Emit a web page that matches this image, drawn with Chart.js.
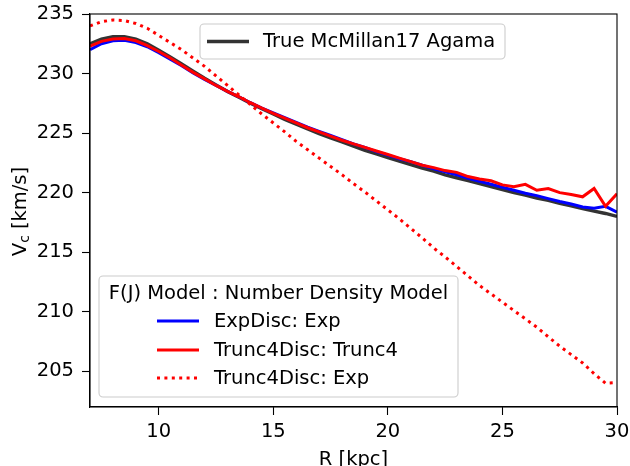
<!DOCTYPE html>
<html>
<head>
<meta charset="utf-8">
<script src="https://cdn.jsdelivr.net/npm/chart.js@4.4.1/dist/chart.umd.min.js"></script>
<style>
  html, body { margin: 0; padding: 0; background: #fff; }
  canvas { display: block; }
</style>
</head>
<body>
<canvas id="vcChart" width="630" height="466"></canvas>
<script>
// radius grid [kpc]
const radius = [7, 7.5, 8, 8.5, 9, 9.5, 10, 10.5, 11, 11.5, 12, 12.5, 13, 13.5, 14, 14.5,
    15, 15.5, 16, 16.5, 17, 17.5, 18, 18.5, 19, 19.5, 20, 20.5, 21, 21.5, 22, 22.5,
    23, 23.5, 24, 24.5, 25, 25.5, 26, 26.5, 27, 27.5, 28, 28.5, 29, 29.5, 30];

// circular velocity curves [km/s]
const vcTrue = [232.5, 232.9, 233.1, 233.1, 232.9, 232.5, 231.95, 231.4, 230.8, 230.2, 229.6, 229.05,
    228.5, 228.0, 227.5, 227.05, 226.6, 226.15, 225.75, 225.35, 224.95, 224.6, 224.25, 223.9,
    223.55, 223.25, 222.95, 222.65, 222.35, 222.05, 221.8, 221.5, 221.25, 221.0, 220.75, 220.5,
    220.25, 220.0, 219.8, 219.55, 219.35, 219.1, 218.9, 218.65, 218.45, 218.25, 218.0];
const vcExpExp = [232.0, 232.5, 232.75, 232.8, 232.6, 232.25, 231.75, 231.2, 230.65, 230.05, 229.5, 229.0,
    228.5, 228.05, 227.55, 227.1, 226.7, 226.3, 225.9, 225.5, 225.15, 224.8, 224.45, 224.1,
    223.8, 223.45, 223.15, 222.85, 222.6, 222.3, 222.0, 221.75, 221.5, 221.2, 220.95, 220.7,
    220.45, 220.2, 219.95, 219.75, 219.5, 219.25, 219.05, 218.8, 218.7, 218.85, 218.35];
const vcTruncTrunc = [232.3, 232.7, 232.9, 232.95, 232.75, 232.35, 231.85, 231.3, 230.7, 230.1, 229.55, 229.0,
    228.5, 228.05, 227.55, 227.1, 226.65, 226.25, 225.85, 225.45, 225.1, 224.75, 224.4, 224.1,
    223.8, 223.5, 223.2, 222.9, 222.6, 222.3, 222.1, 221.85, 221.7, 221.35, 221.15, 221.0,
    220.65, 220.5, 220.7, 220.2, 220.35, 220.0, 219.85, 219.65, 220.35, 218.85, 219.9];
const vcTruncExp = [234.0, 234.35, 234.5, 234.45, 234.2, 233.8, 233.2, 232.6, 232.0, 231.3, 230.6, 229.8,
    229.0, 228.2, 227.4, 226.6, 225.85, 225.1, 224.3, 223.6, 222.9, 222.2, 221.5, 220.75,
    220.05, 219.3, 218.55, 217.8, 217.0, 216.2, 215.35, 214.6, 213.8, 213.0, 212.2, 211.5,
    210.8, 210.1, 209.4, 208.7, 207.9, 207.1, 206.4, 205.7, 204.8, 204.0, 204.05];

const xTicks = [10, 15, 20, 25, 30];
const yTicks = [205, 210, 215, 220, 225, 230, 235];

const FONT = '"DejaVu Sans", sans-serif';
const FSIZE = 19.5;

function pts(ys) {
    return radius.map(function (r, i) { return { x: r, y: ys[i] }; });
}

// frame, axis titles and the two legend boxes
const decor = {
    id: 'decor',
    afterDraw: function (chart) {
        const ctx = chart.ctx;
        const a = chart.chartArea;
        const ds = chart.data.datasets;

        ctx.save();
        ctx.strokeStyle = '#000';
        ctx.lineWidth = 1.1;
        ctx.strokeRect(a.left, a.top, a.right - a.left, a.bottom - a.top);

        ctx.fillStyle = '#000';
        ctx.font = FSIZE + 'px ' + FONT;
        ctx.textBaseline = 'alphabetic';
        ctx.textAlign = 'center';
        ctx.fillText('R [kpc]', (a.left + a.right) / 2, 465);

        // y title with subscript
        ctx.save();
        ctx.translate(26, 211.5);
        ctx.rotate(-Math.PI / 2);
        ctx.textAlign = 'left';
        const subFont = (FSIZE * 0.7) + 'px ' + FONT;
        const mainFont = FSIZE + 'px ' + FONT;
        ctx.font = mainFont;
        const wV = ctx.measureText('V').width;
        const wRest = ctx.measureText(' [km/s]').width;
        ctx.font = subFont;
        const wC = ctx.measureText('c').width;
        let x0 = -(wV + wC + wRest) / 2;
        ctx.font = mainFont;
        ctx.fillText('V', x0, 0);
        ctx.font = subFont;
        ctx.fillText('c', x0 + wV, 3);
        ctx.font = mainFont;
        ctx.fillText(' [km/s]', x0 + wV + wC, 0);
        ctx.restore();

        function box(x, y, w, h) {
            ctx.beginPath();
            ctx.roundRect(x, y, w, h, 4);
            ctx.fillStyle = 'rgba(255,255,255,0.8)';
            ctx.fill();
            ctx.strokeStyle = '#cccccc';
            ctx.lineWidth = 1.1;
            ctx.stroke();
        }
        function handle(d, x1, x2, y) {
            ctx.beginPath();
            ctx.strokeStyle = d.borderColor;
            ctx.lineWidth = d.borderWidth;
            ctx.setLineDash(d.borderDash || []);
            ctx.moveTo(x1, y);
            ctx.lineTo(x2, y);
            ctx.stroke();
            ctx.setLineDash([]);
        }

        // upper legend
        box(200, 24, 305, 35);
        handle(ds[0], 207, 249, 41.5);
        ctx.fillStyle = '#000';
        ctx.font = mainFont;
        ctx.textAlign = 'left';
        ctx.textBaseline = 'middle';
        ctx.fillText(ds[0].label, 263, 42);

        // lower legend
        box(99, 276, 359, 121);
        ctx.fillStyle = '#000';
        ctx.textAlign = 'center';
        ctx.fillText('F(J) Model : Number Density Model', 278.5, 293.5);
        const rows = [321, 350, 378];
        for (let i = 1; i <= 3; i++) {
            handle(ds[i], 157, 199, rows[i - 1]);
            ctx.fillStyle = '#000';
            ctx.textAlign = 'left';
            ctx.fillText(ds[i].label, 214, rows[i - 1] + 0.5);
        }
        ctx.restore();
    }
};

const vcChart = new Chart(document.getElementById('vcChart'), {
    type: 'line',
    data: {
        datasets: [
            {
                label: 'True McMillan17 Agama',
                data: pts(vcTrue),
                borderColor: '#333333',
                borderWidth: 3.4,
                order: 3
            },
            {
                label: 'ExpDisc: Exp',
                data: pts(vcExpExp),
                borderColor: '#0000ff',
                borderWidth: 3,
                order: 2
            },
            {
                label: 'Trunc4Disc: Trunc4',
                data: pts(vcTruncTrunc),
                borderColor: '#ff0000',
                borderWidth: 3,
                order: 1
            },
            {
                label: 'Trunc4Disc: Exp',
                data: pts(vcTruncExp),
                borderColor: '#ff0000',
                borderWidth: 3,
                borderDash: [3, 4.4],
                borderCapStyle: 'butt',
                order: 0
            }
        ]
    },
    options: {
        responsive: false,
        animation: false,
        layout: { padding: { top: 14, right: 13, left: 0, bottom: 0 } },
        elements: { point: { radius: 0 }, line: { tension: 0 } },
        plugins: { legend: { display: false }, tooltip: { enabled: false } },
        scales: {
            x: {
                type: 'linear',
                min: 7,
                max: 30,
                afterBuildTicks: function (scale) {
                    scale.ticks = xTicks.map(function (v) { return { value: v }; });
                },
                afterFit: function (scale) {
                    scale.height = 59;
                    scale.paddingLeft = 0;
                    scale.paddingRight = 0;
                },
                grid: { drawOnChartArea: false, color: '#000', tickLength: 8, tickWidth: 1.1 },
                border: { color: '#000', width: 1.1 },
                ticks: { color: '#000', padding: 5, maxRotation: 0, font: { family: FONT, size: FSIZE } }
            },
            y: {
                type: 'linear',
                min: 202,
                max: 235,
                afterBuildTicks: function (scale) {
                    scale.ticks = yTicks.map(function (v) { return { value: v }; });
                },
                afterFit: function (scale) {
                    scale.width = 90;
                    scale.paddingTop = 0;
                    scale.paddingBottom = 0;
                },
                grid: { drawOnChartArea: false, color: '#000', tickLength: 8, tickWidth: 1.1 },
                border: { color: '#000', width: 1.1 },
                ticks: { color: '#000', padding: 8, font: { family: FONT, size: FSIZE } }
            }
        }
    },
    plugins: [decor]
});
</script>
</body>
</html>
